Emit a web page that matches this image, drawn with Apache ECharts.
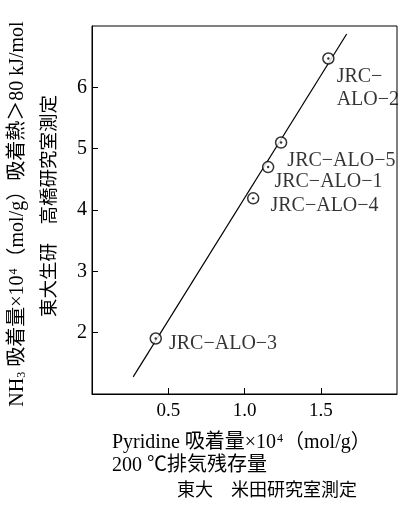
<!DOCTYPE html>
<html>
<head>
<meta charset="utf-8">
<script src="https://cdn.jsdelivr.net/npm/echarts@6/dist/echarts.min.js"></script>
<style>
html,body{margin:0;padding:0;background:#fff;}
#c{width:399px;height:513px;}
</style>
</head>
<body>
<div id="c"></div>
<script>
// ---- data ----
var sampleNames = ['JRC−ALO−2', 'JRC−ALO−5', 'JRC−ALO−1', 'JRC−ALO−4', 'JRC−ALO−3'];
var labelTexts  = ['JRC−\nALO−2', 'JRC−ALO−5', 'JRC−ALO−1', 'JRC−ALO−4', 'JRC−ALO−3'];
var pyridine    = [1.55, 1.24, 1.155, 1.057, 0.418];   // x ×10^4 mol/g
var nh3         = [6.47, 5.10, 4.70, 4.19, 1.905];     // y ×10^4 mol/g
var fitX        = [0.27, 1.67];
var fitY        = [1.28, 6.87];
var xTicks      = [0.5, 1.0, 1.5];
var yTicks      = [2, 3, 4, 5, 6];

// ---- styling (kept separate from data) ----
var SERIF = "'Liberation Serif','Noto Sans CJK JP',serif";
var labelOffsets = [[2, 30], [0, 18], [0, 15], [11, 7], [7, 5]];

var chart = echarts.init(document.getElementById('c'), null, {renderer: 'canvas'});

var pts = pyridine.map(function (x, i) {
  return {
    name: sampleNames[i],
    value: [x, nh3[i]],
    label: {
      formatter: labelTexts[i],
      offset: labelOffsets[i]
    }
  };
});
var dots = pyridine.map(function (x, i) { return [x, nh3[i]]; });
var fit = fitX.map(function (x, i) { return [x, fitY[i]]; });

var supStyle = {fontFamily: SERIF, fontSize: 12, color: '#000', verticalAlign: 'top', padding: [0, 1, 8, 1]};
var baseStyle = {fontFamily: SERIF, fontSize: 20, color: '#000'};

chart.setOption({
  animation: false,
  backgroundColor: '#fff',
  grid: {left: 92, right: 2, top: 26, bottom: 119, show: true, borderColor: '#000', borderWidth: 1, backgroundColor: 'transparent'},
  xAxis: {
    type: 'value', min: 0, max: 2, interval: 0.5,
    splitLine: {show: false},
    axisLine: {show: true, lineStyle: {color: '#000', width: 1}},
    axisTick: {show: true, inside: true, length: 6, customValues: xTicks, lineStyle: {color: '#000'}},
    axisLabel: {customValues: xTicks, margin: 8, color: '#000', fontFamily: SERIF, fontSize: 19,
      formatter: function (v) { return v.toFixed(1); }}
  },
  yAxis: {
    type: 'value', min: 1, max: 7, interval: 1,
    splitLine: {show: false},
    axisLine: {show: true, lineStyle: {color: '#000', width: 1}},
    axisTick: {show: true, inside: true, length: 6, customValues: yTicks, lineStyle: {color: '#000'}},
    axisLabel: {customValues: yTicks, margin: 5, color: '#000', fontFamily: SERIF, fontSize: 20}
  },
  series: [
    {
      type: 'line', data: fit, symbol: 'none', silent: true,
      lineStyle: {color: '#000', width: 1.2}, z: 1
    },
    {
      type: 'scatter', data: pts, symbol: 'circle', symbolSize: 11,
      itemStyle: {color: '#fff', borderColor: '#000', borderWidth: 1.5},
      label: {show: true, position: 'right', distance: 0, color: '#000',
        fontFamily: SERIF, fontSize: 20, lineHeight: 23, align: 'left'},
      z: 2
    },
    {
      type: 'scatter', data: dots, symbol: 'circle', symbolSize: 2.4,
      itemStyle: {color: '#000'}, silent: true, z: 3
    }
  ],
  graphic: [
    {
      type: 'text', x: 18, y: 214, rotation: Math.PI / 2,
      style: {
        text: '{b|NH}{s|3}{b| 吸着量×10}{p|4}{b|（mol/g）吸着熱＞80 kJ/mol}',
        rich: {
          b: baseStyle,
          s: {fontFamily: SERIF, fontSize: 12, color: '#000', verticalAlign: 'bottom', padding: [8, 0, 0, 0]},
          p: supStyle
        },
        align: 'center', verticalAlign: 'middle'
      }
    },
    {
      type: 'text', x: 50, y: 206, rotation: Math.PI / 2,
      style: {
        text: '東大生研　高橋研究室測定',
        fontFamily: SERIF, fontSize: 18.5, fill: '#000',
        align: 'center', verticalAlign: 'middle'
      }
    },
    {
      type: 'text', x: 112, y: 443,
      style: {
        text: '{b|Pyridine 吸着量×10}{p|4}{b|（mol/g）}',
        rich: {b: baseStyle, p: supStyle},
        align: 'left', verticalAlign: 'middle'
      }
    },
    {
      type: 'text', x: 112, y: 466,
      style: {
        text: '200 ℃排気残存量',
        fontFamily: SERIF, fontSize: 20, fill: '#000',
        align: 'left', verticalAlign: 'middle'
      }
    },
    {
      type: 'text', x: 267, y: 491,
      style: {
        text: '東大　米田研究室測定',
        fontFamily: SERIF, fontSize: 18, fill: '#000',
        align: 'center', verticalAlign: 'middle'
      }
    }
  ]
});
</script>
</body>
</html>
